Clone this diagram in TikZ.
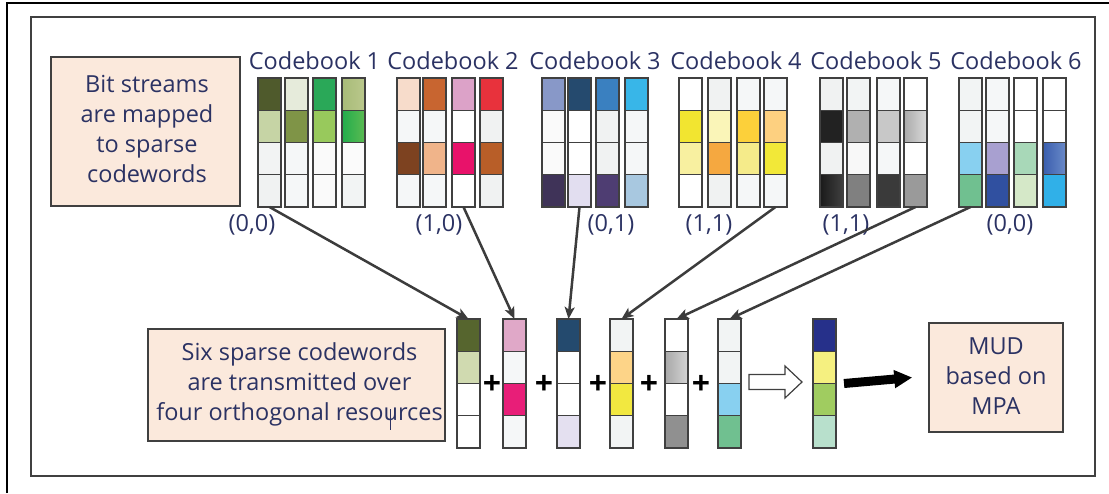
\documentclass[tikz,border=0pt]{standalone}
\usepackage{fontspec}
\setmainfont{Open Sans}
\usetikzlibrary{arrows.meta}
\definecolor{txt}{HTML}{2B3263}
\definecolor{peach}{HTML}{FBE9DC}
\definecolor{edge}{HTML}{404040}
\definecolor{arr}{HTML}{3C3C3C}
\newcommand\cwfill[6]{%
  \definecolor{qa}{HTML}{#3}\definecolor{qb}{HTML}{#4}%
  \definecolor{qc}{HTML}{#5}\definecolor{qd}{HTML}{#6}%
  \fill[qa] (#1,#2) rectangle ++(23,32.25);
  \fill[qb] (#1,#2+32.25) rectangle ++(23,32.25);
  \fill[qc] (#1,#2+64.5) rectangle ++(23,32.25);
  \fill[qd] (#1,#2+96.75) rectangle ++(23,32.25);}
\newcommand\cwgrad[4]{%
  \definecolor{gl}{HTML}{#3}\definecolor{gr}{HTML}{#4}%
  \shade[left color=gl,right color=gr] (#1,#2) rectangle ++(23,32.25);}
\newcommand\cwbox[3]{%
  \node[cwbox] (#1) at (#2+11.5,#3+64.5) {};
  \draw[cwline] (#2,#3+32.25) -- ++(23,0) (#2,#3+64.5) -- ++(23,0) (#2,#3+96.75) -- ++(23,0);}
\begin{document}
\begin{tikzpicture}[x=1pt,y=-1pt,
  cwbox/.style={draw=edge,line width=1.4pt,minimum width=23pt,minimum height=129pt,inner sep=0pt,outer sep=0pt},
  cwline/.style={draw=edge,line width=1.4pt},
  txtbox/.style={draw=edge,fill=peach,line width=1.5pt,inner sep=0pt},
  btext/.style={text=txt,font=\fontsize{23.5}{30}\selectfont,align=center,inner sep=0pt},
  title/.style={text=txt,font=\fontsize{23.5}{28}\selectfont,inner sep=0pt},
  lab/.style={text=txt,font=\fontsize{23.5}{28}\selectfont,inner sep=0pt},
  conn/.style={draw=arr,line width=2.5pt,-{Stealth[length=12pt,width=10pt,inset=3pt]}},
  plus/.style={font=\fontsize{32}{32}\selectfont\bfseries,inner sep=0pt}]
\useasboundingbox (0,0) rectangle (1109,493);
% frames
\draw[black,line width=1.3pt] (7,493) -- (7,3) -- (1109,3);
\draw[edge,line width=2pt] (31,17) rectangle (1095,476);
% text boxes
\node[txtbox,minimum width=189pt,minimum height=149pt] (bits) at (145.5,131.5) {};
\node[btext] (bitst) at (147,129) {Bit streams\\are mapped\\to sparse\\codewords};
\node[txtbox,minimum width=297pt,minimum height=112pt] (six) at (296.5,385) {};
\node[btext] (sixt) at (299.5,384) {Six sparse codewords\\are transmitted over\\four orthogonal resources};
\draw[txt,line width=1pt] (390,409) -- (390,430);
\node[txtbox,minimum width=134pt,minimum height=109pt] (mud) at (996,377.5) {};
\node[btext] (mudt) at (996,376) {MUD\\based on\\MPA};
% codebook fills
\cwfill{258}{78}{4F5A2C}{C6D4A5}{F2F3F3}{F0F2F2}
\cwfill{285}{78}{E6EBDB}{7F9447}{F5F7F8}{F5F7F8}
\cwfill{313}{78}{2AA858}{98C95C}{FAFAFA}{FAFAFA}
\cwfill{342}{78}{B0C080}{3CB44E}{FBFBFB}{F2F4F4}
\cwgrad{342}{78}{A8BB78}{BAC88C}
\cwgrad{342}{110.25}{22AC4C}{5CBB52}
\cwfill{397}{78}{F7DCCB}{F5F7F8}{7D4220}{F5F7F8}
\cwfill{423}{78}{C86530}{F5F7F8}{F0B48A}{F5F7F8}
\cwfill{452}{78}{DCA2C8}{FFFFFF}{E8126A}{FFFFFF}
\cwfill{480}{78}{E8323C}{F0F2F2}{B85E28}{F0F2F2}
\cwfill{542}{78}{8898C8}{FAFAFA}{FAFAFA}{3F3358}
\cwfill{568}{78}{254A6E}{FFFFFF}{FFFFFF}{E2DEF0}
\cwfill{596}{78}{3A80C0}{F0F2F2}{F0F2F2}{4E3D72}
\cwfill{625}{78}{38B6E8}{F5F7F8}{F5F7F8}{A8C8E0}
\cwfill{679}{78}{FFFFFF}{F2E530}{F8F0A0}{FFFFFF}
\cwfill{708}{78}{F0F2F2}{FAF5B8}{F5A840}{F0F2F2}
\cwfill{737}{78}{F5F7F8}{FCD03A}{F5EB8A}{F5F7F8}
\cwfill{764}{78}{F5F7F8}{FDD080}{F2E838}{F5F7F8}
\cwfill{820}{78}{F0F2F2}{222222}{F0F2F2}{2A2A2A}
\cwgrad{820}{174.75}{1A1A1A}{404040}
\cwfill{847}{78}{F2F4F4}{B0B0B0}{F8F8F8}{808080}
\cwfill{877}{78}{F5F7F8}{C8C8C8}{F5F7F8}{3A3A3A}
\cwfill{904}{78}{FFFFFF}{C0C0C0}{FFFFFF}{9A9A9A}
\cwgrad{904}{110.25}{ABABAB}{DADADA}
\cwfill{959}{78}{F2F4F4}{F2F4F4}{88D0F0}{70C090}
\cwfill{986}{78}{F5F7F8}{F5F7F8}{A8A0D0}{3050A0}
\cwfill{1014}{78}{FFFFFF}{FFFFFF}{A8D8B8}{D5E8C8}
\cwfill{1043}{78}{FFFFFF}{FFFFFF}{4A70B8}{30B0E8}
\cwgrad{1043}{142.5}{3A5EAE}{6A8AC8}
% codebook outlines
\cwbox{a1}{258}{78}\cwbox{a2}{285}{78}\cwbox{a3}{313}{78}\cwbox{a4}{342}{78}
\cwbox{b1}{397}{78}\cwbox{b2}{423}{78}\cwbox{b3}{452}{78}\cwbox{b4}{480}{78}
\cwbox{c1}{542}{78}\cwbox{c2}{568}{78}\cwbox{c3}{596}{78}\cwbox{c4}{625}{78}
\cwbox{d1}{679}{78}\cwbox{d2}{708}{78}\cwbox{d3}{737}{78}\cwbox{d4}{764}{78}
\cwbox{e1}{820}{78}\cwbox{e2}{847}{78}\cwbox{e3}{877}{78}\cwbox{e4}{904}{78}
\cwbox{f1}{959}{78}\cwbox{f2}{986}{78}\cwbox{f3}{1014}{78}\cwbox{f4}{1043}{78}
% titles
\node[title] (t1) at (314.5,61) {Codebook 1};
\node[title] (t2) at (453,61) {Codebook 2};
\node[title] (t3) at (595,61) {Codebook 3};
\node[title] (t4) at (736,61) {Codebook 4};
\node[title] (t5) at (876,61) {Codebook 5};
\node[title] (t6) at (1016,61) {Codebook 6};
% labels
\node[lab] (l1) at (252,225) {(0,0)};
\node[lab] (l2) at (439,225) {(1,0)};
\node[lab] (l3) at (611,225) {(0,1)};
\node[lab] (l4) at (709,225) {(1,1)};
\node[lab] (l5) at (846,225) {(1,1)};
\node[lab] (l6) at (1010,225) {(0,0)};
% transmitted codewords
\cwfill{457}{319}{56652E}{D0DAB0}{FFFFFF}{FFFFFF}
\cwfill{503}{319}{E0A8C8}{F5F7F8}{E81E78}{F5F7F8}
\cwfill{557}{319}{244A6E}{FFFFFF}{FFFFFF}{E4E0F0}
\cwfill{610}{319}{F2F4F4}{FDD488}{F2E840}{F2F4F4}
\cwfill{665}{319}{FFFFFF}{C0C0C0}{FFFFFF}{909090}
\cwgrad{665}{351.25}{A8A8A8}{D4D4D4}
\cwfill{718}{319}{F2F4F4}{F2F4F4}{88D0F0}{70C090}
\cwfill{813}{319}{26308A}{F5F080}{A0CC60}{B8E0CC}
\cwbox{s1}{457}{319}\cwbox{s2}{503}{319}\cwbox{s3}{557}{319}
\cwbox{s4}{610}{319}\cwbox{s5}{665}{319}\cwbox{s6}{718}{319}
\cwbox{res}{813}{319}
% plus signs
\node[plus] (p1) at (492,385) {+};
\node[plus] (p2) at (544,385) {+};
\node[plus] (p3) at (598,385) {+};
\node[plus] (p4) at (649,385) {+};
\node[plus] (p5) at (701,385) {+};
% connectors
\draw[conn] (a1.south) -- (s1.north);
\draw[conn] (b3.south) -- (s2.north);
\draw[conn] (c2.south) -- (s3.north);
\draw[conn] (d4.south) -- (s4.north);
\draw[conn] (e4.south) -- (s5.north);
\draw[conn] (f1.south) -- (s6.north);
% hollow arrow
\coordinate (ha) at (749,382);
\draw[edge,fill=white,line width=1.2pt] (ha) ++(0,-7.5) -- ++(36,0) -- ++(0,-8.5) -- ++(17,16) -- ++(-17,16) -- ++(0,-8.5) -- ++(-36,0) -- cycle;
% black arrow
\draw[black,line width=9pt,-{Triangle[length=18pt,width=17pt]}] ([xshift=8pt]res.east) -- ([xshift=-16pt]mud.west);
\end{tikzpicture}
\end{document}
